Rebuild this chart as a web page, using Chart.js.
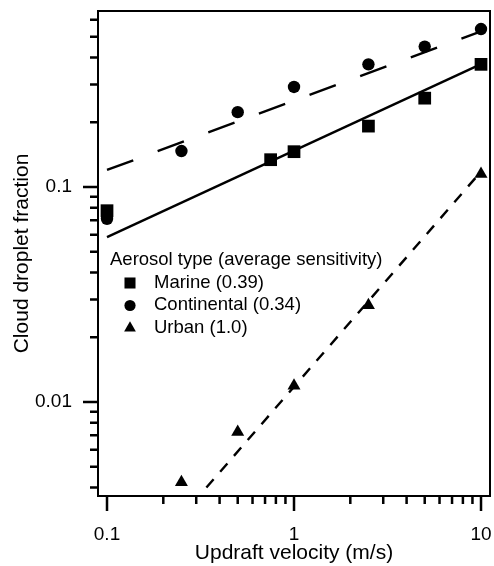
<!DOCTYPE html>
<html>
<head>
<meta charset="utf-8">
<script src="https://cdn.jsdelivr.net/npm/chart.js@4.4.1/dist/chart.umd.min.js"></script>
<style>
  html, body { margin: 0; padding: 0; background: #fff; }
  #wrap { width: 494px; height: 566px; position: relative; }
</style>
</head>
<body>
<div id="wrap"><canvas id="grafico"></canvas></div>
<script>
// ---- dados ----
const marineX = [0.1, 0.75, 1, 2.5, 5, 10];
const marineY = [0.0776, 0.134, 0.146, 0.192, 0.259, 0.372];

const continentalX = [0.1, 0.25, 0.5, 1, 2.5, 5, 10];
const continentalY = [0.0711, 0.147, 0.223, 0.292, 0.372, 0.450, 0.543];

const urbanX = [0.25, 0.5, 1, 2.5, 10];
const urbanY = [0.00424, 0.00725, 0.0119, 0.0282, 0.115];

// linhas de ajuste (pontos extremos)
const marineFitX = [0.1, 10];
const marineFitY = [0.0585, 0.373];
const continentalFitX = [0.1, 10];
const continentalFitY = [0.12, 0.53];
const urbanFitX = [0.34, 10];
const urbanFitY = [0.004, 0.118];

const xMajorTicks = [0.1, 1, 10];
const xMinorTicks = [0.2, 0.3, 0.4, 0.5, 0.6, 0.7, 0.8, 0.9, 2, 3, 4, 5, 6, 7, 8, 9];
const yMajorTicks = [0.01, 0.1];
const yMinorTicks = [0.004, 0.005, 0.006, 0.007, 0.008, 0.009,
                     0.02, 0.03, 0.04, 0.05, 0.06, 0.07, 0.08, 0.09,
                     0.2, 0.3, 0.4, 0.5, 0.6];

const legendTitle = 'Aerosol type (average sensitivity)';
const legendLabels = ['Marine (0.39)', 'Continental (0.34)', 'Urban (1.0)'];
const legendMarkers = ['rect', 'circle', 'triangle'];

const FONT = '"Liberation Sans", Arial, Helvetica, sans-serif';

function pares(xs, ys) {
    return xs.map((x, i) => ({ x: x, y: ys[i] }));
}

function desenharMarcador(ctx, estilo, x, y, r) {
    if (Chart.helpers && Chart.helpers.drawPoint) {
        Chart.helpers.drawPoint(ctx, { pointStyle: estilo, radius: r, borderWidth: 0 }, x, y);
        return;
    }
    ctx.beginPath();
    if (estilo === 'circle') {
        ctx.arc(x, y, r, 0, Math.PI * 2);
    } else if (estilo === 'rect') {
        const s = r * Math.SQRT1_2;
        ctx.rect(x - s, y - s, 2 * s, 2 * s);
    } else {
        ctx.moveTo(x, y - r);
        ctx.lineTo(x + r * 0.866, y + r / 2);
        ctx.lineTo(x - r * 0.866, y + r / 2);
        ctx.closePath();
    }
    ctx.fill();
}

// moldura, marcas de escala e legenda
const molduraPlugin = {
    id: 'moldura',
    afterDraw(chart) {
        const { ctx, chartArea: a, scales } = chart;
        const sx = scales.x, sy = scales.y;
        ctx.save();
        ctx.strokeStyle = '#000';
        ctx.fillStyle = '#000';

        ctx.lineWidth = 2;
        ctx.strokeRect(a.left, a.top, a.right - a.left, a.bottom - a.top);

        ctx.lineWidth = 2.5;
        ctx.beginPath();
        xMajorTicks.forEach(v => {
            const px = sx.getPixelForValue(v);
            ctx.moveTo(px, a.bottom); ctx.lineTo(px, a.bottom + 15);
        });
        xMinorTicks.forEach(v => {
            const px = sx.getPixelForValue(v);
            ctx.moveTo(px, a.bottom); ctx.lineTo(px, a.bottom + 8);
        });
        yMajorTicks.forEach(v => {
            const py = sy.getPixelForValue(v);
            ctx.moveTo(a.left, py); ctx.lineTo(a.left - 15, py);
        });
        yMinorTicks.forEach(v => {
            const py = sy.getPixelForValue(v);
            ctx.moveTo(a.left, py); ctx.lineTo(a.left - 8, py);
        });
        ctx.stroke();

        // legenda
        ctx.font = '18.5px ' + FONT;
        ctx.textBaseline = 'alphabetic';
        ctx.textAlign = 'left';
        ctx.fillText(legendTitle, 110, 265);
        const raios = [7.8, 5.6, 6.8];
        legendLabels.forEach((txt, i) => {
            const base = 287.5 + i * 22.5;
            desenharMarcador(ctx, legendMarkers[i], 130, base - 4.5, raios[i]);
            ctx.fillText(txt, 154, base);
        });
        ctx.restore();
    }
};

const ctx = document.getElementById('grafico').getContext('2d');

new Chart(ctx, {
    type: 'scatter',
    data: {
        datasets: [
            {
                label: 'Marine fit',
                data: pares(marineFitX, marineFitY),
                showLine: true, pointRadius: 0,
                borderColor: '#000', borderWidth: 2.4
            },
            {
                label: 'Continental fit',
                data: pares(continentalFitX, continentalFitY),
                showLine: true, pointRadius: 0,
                borderColor: '#000', borderWidth: 2.4,
                borderDash: [28, 26]
            },
            {
                label: 'Urban fit',
                data: pares(urbanFitX, urbanFitY),
                showLine: true, pointRadius: 0,
                borderColor: '#000', borderWidth: 2.4,
                borderDash: [11, 10]
            },
            {
                label: legendLabels[0],
                data: pares(marineX, marineY),
                pointStyle: 'rect', pointRadius: 9,
                backgroundColor: '#000', borderWidth: 0
            },
            {
                label: legendLabels[1],
                data: pares(continentalX, continentalY),
                pointStyle: 'circle', pointRadius: 6.2,
                backgroundColor: '#000', borderWidth: 0
            },
            {
                label: legendLabels[2],
                data: pares(urbanX, urbanY),
                pointStyle: 'triangle', pointRadius: 7.5,
                backgroundColor: '#000', borderWidth: 0
            }
        ]
    },
    options: {
        responsive: true,
        maintainAspectRatio: false,
        animation: false,
        layout: {
            autoPadding: false, // senão o raio dos marcadores encolhe a área
            padding: { top: 11, right: 4, left: 0, bottom: 0 }
        },
        plugins: {
            legend: { display: false },
            tooltip: { enabled: false }
        },
        scales: {
            x: {
                type: 'logarithmic',
                min: 0.0895,
                max: 11.17,
                bounds: 'data',
                // tickLength só empurra os rótulos; as marcas são desenhadas no plugin
                grid: { display: false, drawTicks: true, tickLength: 27 },
                border: { display: false },
                afterBuildTicks: scale => {
                    scale.ticks = xMajorTicks.map(v => ({ value: v }));
                },
                afterFit: scale => {
                    scale.height = 70;
                    scale.paddingLeft = 0;
                    scale.paddingRight = 0;
                },
                ticks: {
                    autoSkip: false,
                    maxRotation: 0,
                    padding: 0,
                    color: '#000',
                    font: { family: FONT, size: 19 },
                    callback: v => String(v)
                },
                title: {
                    display: true,
                    text: 'Updraft velocity (m/s)',
                    color: '#000',
                    font: { family: FONT, size: 21 },
                    padding: { top: 0, bottom: 0 }
                }
            },
            y: {
                type: 'logarithmic',
                min: 0.003655,
                max: 0.6587,
                bounds: 'data',
                grid: { display: false, drawTicks: true, tickLength: 26 },
                border: { display: false },
                afterBuildTicks: scale => {
                    scale.ticks = yMajorTicks.map(v => ({ value: v }));
                },
                afterFit: scale => {
                    scale.width = 98;
                    scale.paddingTop = 0;
                    scale.paddingBottom = 0;
                },
                ticks: {
                    autoSkip: false,
                    padding: 0,
                    color: '#000',
                    font: { family: FONT, size: 19 },
                    callback: v => String(v)
                },
                title: {
                    display: true,
                    text: 'Cloud droplet fraction',
                    color: '#000',
                    font: { family: FONT, size: 21 },
                    padding: { top: 10, bottom: 0 }
                }
            }
        }
    },
    plugins: [molduraPlugin]
});
</script>
</body>
</html>
